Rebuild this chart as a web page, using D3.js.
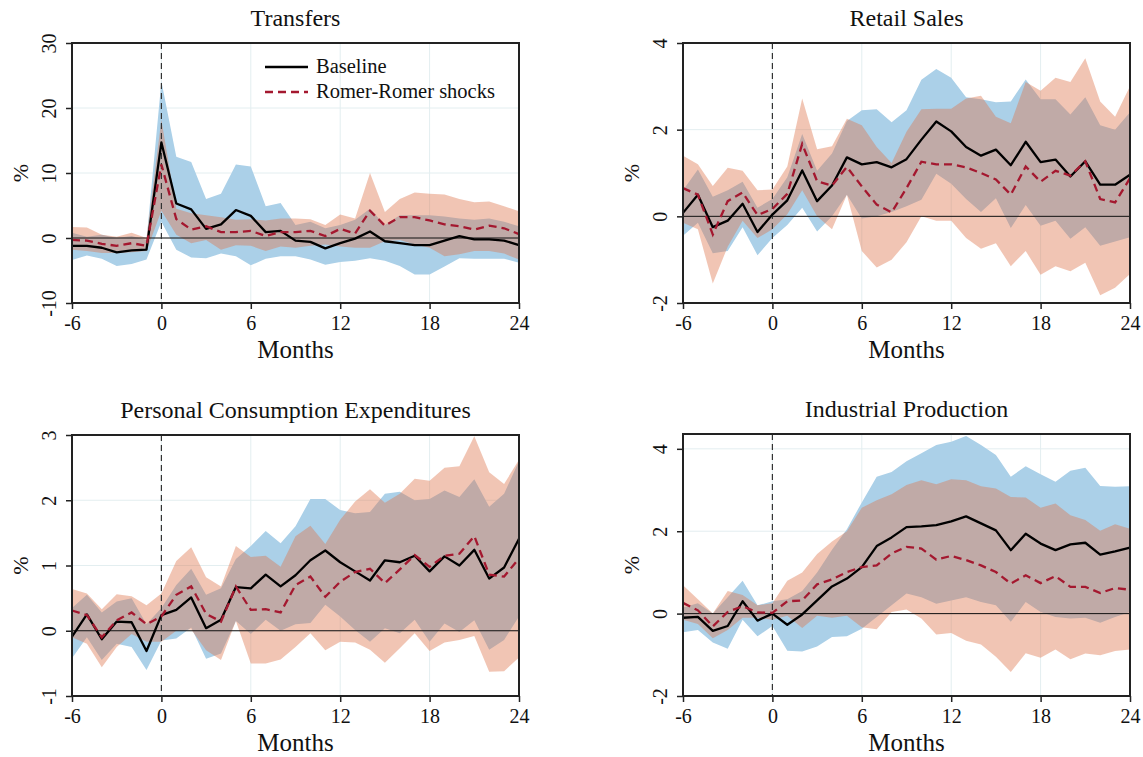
<!DOCTYPE html>
<html>
<head>
<meta charset="utf-8">
<script src="https://cdn.jsdelivr.net/npm/d3@7"></script>
<style>
  body { margin: 0; background: #fff; }
  svg { display: block; font-family: "Liberation Serif", "Times New Roman", serif; }
</style>
</head>
<body>
<svg id="chart" width="1143" height="757"></svg>
<script>
// months after the shock
var months = [-6,-5,-4,-3,-2,-1,0,1,2,3,4,5,6,7,8,9,10,11,12,13,14,15,16,17,18,19,20,21,22,23,24];
var xTicks = [-6, 0, 6, 12, 18, 24];

// Transfers
var trBase   = [-1.2,-1.2,-1.5,-2.2,-1.9,-1.8,14.7,5.3,4.4,1.4,2.1,4.3,3.4,0.9,1.1,-0.4,-0.6,-1.6,-0.8,-0.1,1.0,-0.5,-0.8,-1.1,-1.1,-0.4,0.3,-0.2,-0.2,-0.4,-1.1];
var trBaseHi = [0.8,0.2,0.5,0.0,0.3,-0.3,24.1,12.5,11.7,6.0,6.8,11.3,11.0,4.9,5.4,2.0,2.5,1.5,2.0,2.8,4.5,2.0,3.5,3.5,3.5,3.3,3.0,2.8,3.0,2.5,1.8];
var trBaseLo = [-3.4,-2.7,-3.2,-4.3,-4.0,-3.3,2.5,-1.8,-3.0,-3.1,-2.4,-2.8,-4.2,-3.2,-2.8,-2.8,-3.3,-4.1,-3.7,-3.5,-3.1,-3.5,-4.3,-5.6,-5.6,-4.4,-3.1,-3.2,-3.2,-3.2,-3.8];
var trRR     = [-0.3,-0.4,-0.9,-1.2,-0.8,-1.2,11.3,2.9,1.3,1.8,0.9,0.9,1.1,0.3,0.9,0.9,1.1,0.3,1.4,0.7,4.2,1.9,3.2,3.2,2.7,2.1,1.8,1.3,1.9,1.5,0.6];
var trRRHi   = [1.7,1.6,0.5,0.2,0.8,0.0,18.2,4.5,3.8,3.5,3.2,2.8,2.9,2.7,3.0,3.0,2.9,2.0,3.6,3.0,10.0,4.0,6.0,7.0,6.8,6.7,6.0,5.5,5.6,4.9,4.1];
var trRRLo   = [-1.8,-2.0,-2.3,-2.3,-2.2,-2.0,4.2,0.5,-0.8,-0.3,-1.8,-1.1,-1.2,-2.0,-1.3,-1.5,-1.2,-1.0,-1.3,-1.5,-1.5,-0.5,-0.3,-1.0,-1.5,-2.8,-2.5,-2.0,-2.0,-2.4,-3.3];

// Retail Sales
var rsBase   = [0.08,0.5,-0.25,-0.1,0.29,-0.36,0.04,0.37,1.06,0.35,0.71,1.36,1.2,1.25,1.13,1.32,1.77,2.19,1.96,1.6,1.4,1.54,1.18,1.72,1.25,1.31,0.92,1.27,0.73,0.73,0.96];
var rsBaseHi = [0.6,1.08,0.45,0.6,0.8,0.2,0.4,0.9,1.9,1.05,1.45,2.2,2.45,2.47,2.17,2.45,3.15,3.4,3.2,2.75,2.7,2.63,2.65,3.16,2.7,2.7,2.35,2.75,2.1,2.0,2.4];
var rsBaseLo = [-0.45,-0.15,-0.85,-0.8,-0.25,-0.9,-0.5,-0.2,0.2,-0.35,0.0,0.5,-0.05,0.0,0.1,0.23,0.38,0.98,0.75,0.4,0.1,0.42,-0.27,0.26,-0.22,-0.1,-0.52,-0.25,-0.68,-0.58,-0.48];
var rsRR     = [0.65,0.5,-0.42,0.35,0.55,0.03,0.17,0.52,1.67,0.81,0.71,1.14,0.69,0.27,0.09,0.65,1.26,1.2,1.2,1.13,1.0,0.85,0.5,1.15,0.8,1.05,0.94,1.27,0.4,0.32,0.88];
var rsRRHi   = [1.4,1.2,0.7,1.12,1.05,0.6,0.62,1.15,2.72,1.55,1.62,2.25,2.1,1.6,1.23,1.95,2.47,2.48,2.48,2.72,2.78,2.3,2.15,3.1,2.9,3.2,3.1,3.65,2.65,2.3,3.0];
var rsRRLo   = [-0.15,-0.3,-1.55,-0.7,-0.1,-0.5,-0.3,0.05,0.6,0.0,-0.3,0.5,-0.8,-1.18,-1.0,-0.6,0.0,-0.1,-0.1,-0.5,-0.75,-0.62,-1.15,-0.8,-1.35,-1.15,-1.27,-1.07,-1.82,-1.65,-1.33];

// Personal Consumption Expenditures
var pcBase   = [-0.09,0.25,-0.13,0.14,0.13,-0.31,0.24,0.32,0.51,0.04,0.17,0.67,0.65,0.86,0.68,0.85,1.08,1.23,1.05,0.91,0.77,1.08,1.05,1.15,0.91,1.14,1.0,1.24,0.8,0.97,1.41];
var pcBaseHi = [0.35,0.55,0.28,0.45,0.5,0.1,0.35,0.7,0.95,0.55,0.65,1.1,1.3,1.53,1.34,1.6,2.02,2.02,1.85,1.8,1.82,2.1,2.13,2.0,2.02,2.15,2.05,2.32,1.9,2.1,2.6];
var pcBaseLo = [-0.42,-0.1,-0.45,-0.2,-0.25,-0.6,-0.15,-0.12,0.05,-0.43,-0.35,0.15,-0.05,0.17,0.0,0.1,0.12,0.4,0.22,0.01,-0.17,0.04,-0.04,0.17,-0.17,0.11,-0.02,0.16,-0.29,-0.14,0.22];
var pcRR     = [0.31,0.24,-0.1,0.16,0.28,0.1,0.22,0.55,0.68,0.26,0.14,0.68,0.32,0.33,0.28,0.7,0.83,0.52,0.75,0.9,0.95,0.73,0.94,1.16,0.98,1.15,1.18,1.45,0.86,0.83,1.11];
var pcRRHi   = [0.64,0.57,0.33,0.56,0.53,0.39,0.57,1.07,1.28,0.82,0.68,1.3,1.13,1.15,0.98,1.45,1.61,1.33,1.7,1.98,2.17,1.96,2.1,2.33,2.3,2.5,2.52,2.98,2.43,2.25,2.62];
var pcRRLo   = [-0.1,-0.2,-0.56,-0.25,-0.05,-0.17,-0.17,0.0,0.02,-0.3,-0.45,0.15,-0.5,-0.5,-0.44,-0.25,-0.04,-0.3,-0.17,-0.18,-0.29,-0.49,-0.27,-0.04,-0.31,-0.18,-0.14,-0.08,-0.63,-0.62,-0.41];

// Industrial Production
var ipBase   = [-0.1,-0.08,-0.42,-0.3,0.3,-0.17,0.0,-0.27,-0.02,0.32,0.66,0.85,1.13,1.64,1.85,2.1,2.12,2.15,2.24,2.36,2.19,2.02,1.54,1.94,1.7,1.54,1.68,1.72,1.43,1.51,1.6];
var ipBaseHi = [0.15,0.25,0.0,0.4,0.8,0.2,0.3,0.35,0.55,1.0,1.55,2.05,2.7,3.32,3.44,3.7,3.89,4.09,4.17,4.31,4.09,3.85,3.32,3.58,3.38,3.2,3.47,3.54,3.1,3.08,3.09];
var ipBaseLo = [-0.45,-0.4,-0.7,-0.85,-0.15,-0.55,-0.3,-0.9,-0.92,-0.8,-0.57,-0.55,-0.37,-0.08,0.2,0.49,0.4,0.24,0.32,0.4,0.28,0.2,-0.2,0.28,0.04,-0.08,-0.12,-0.1,-0.22,-0.08,0.04];
var ipRR     = [0.26,0.08,-0.31,0.04,0.18,0.03,0.02,0.3,0.32,0.71,0.83,1.01,1.13,1.17,1.46,1.62,1.58,1.31,1.4,1.3,1.17,1.01,0.73,0.93,0.74,0.91,0.65,0.65,0.5,0.62,0.58];
var ipRRHi   = [0.69,0.35,0.0,0.55,0.45,0.2,0.25,0.8,1.0,1.45,1.75,2.0,2.57,2.75,2.9,3.12,3.24,3.14,3.26,3.24,3.09,3.04,2.83,2.82,2.57,2.67,2.39,2.27,2.01,2.17,2.06];
var ipRRLo   = [-0.15,-0.25,-0.6,-0.4,-0.1,-0.1,-0.15,-0.05,-0.35,-0.05,-0.1,-0.05,-0.33,-0.38,0.04,0.1,-0.12,-0.51,-0.47,-0.66,-0.75,-1.05,-1.42,-0.96,-1.07,-0.87,-1.11,-0.97,-1.01,-0.91,-0.87];

var seriesNames = ["Baseline", "Romer-Romer shocks"];

var panels = [
  {title: "Transfers", left: 72, top: 43, bottom: 303, yDomain: [-10, 30], yTicks: [-10, 0, 10, 20, 30],
   base: trBase, baseHi: trBaseHi, baseLo: trBaseLo, rr: trRR, rrHi: trRRHi, rrLo: trRRLo, legend: true},
  {title: "Retail Sales", left: 683, top: 43, bottom: 303, yDomain: [-2, 4], yTicks: [-2, 0, 2, 4],
   base: rsBase, baseHi: rsBaseHi, baseLo: rsBaseLo, rr: rsRR, rrHi: rsRRHi, rrLo: rsRRLo},
  {title: "Personal Consumption Expenditures", left: 72, top: 435, bottom: 696, yDomain: [-1, 3], yTicks: [-1, 0, 1, 2, 3],
   base: pcBase, baseHi: pcBaseHi, baseLo: pcBaseLo, rr: pcRR, rrHi: pcRRHi, rrLo: pcRRLo},
  {title: "Industrial Production", left: 683, top: 434, bottom: 696, yDomain: [-2, 4.36], yTicks: [-2, 0, 2, 4],
   base: ipBase, baseHi: ipBaseHi, baseLo: ipBaseLo, rr: ipRR, rrHi: ipRRHi, rrLo: ipRRLo}
];

var plotW = 447;
var svg = d3.select("#chart");
// plain hyphen for negative ticks, like the original
var fmt = function(d) { return String(d); };

panels.forEach(function(p) {
  var x = d3.scaleLinear().domain([-6, 24]).range([p.left, p.left + plotW]);
  var y = d3.scaleLinear().domain(p.yDomain).range([p.bottom, p.top]);
  var g = svg.append("g");
  var idx = d3.range(months.length);

  // light grid
  g.selectAll(".gy").data(p.yTicks).enter().append("line")
      .attr("x1", x(-6)).attr("x2", x(24))
      .attr("y1", function(d) { return y(d); }).attr("y2", function(d) { return y(d); })
      .attr("stroke", "#e3eef0").attr("stroke-width", 1);
  g.selectAll(".gx").data(xTicks).enter().append("line")
      .attr("x1", function(d) { return x(d); }).attr("x2", function(d) { return x(d); })
      .attr("y1", p.top).attr("y2", p.bottom)
      .attr("stroke", "#e3eef0").attr("stroke-width", 1);

  // confidence bands
  var band = function(hi, lo) {
    return d3.area()
      .x(function(i) { return x(months[i]); })
      .y0(function(i) { return y(lo[i]); })
      .y1(function(i) { return y(hi[i]); });
  };
  g.append("path").attr("d", band(p.baseHi, p.baseLo)(idx))
      .attr("fill", "#abd0e8");
  g.append("path").attr("d", band(p.rrHi, p.rrLo)(idx))
      .attr("fill", "rgb(222,117,76)").attr("fill-opacity", 0.42);

  // zero line and shock date
  g.append("line").attr("x1", x(-6)).attr("x2", x(24)).attr("y1", y(0)).attr("y2", y(0))
      .attr("stroke", "#111").attr("stroke-width", 1);
  g.append("line").attr("x1", x(0)).attr("x2", x(0)).attr("y1", p.top).attr("y2", p.bottom)
      .attr("stroke", "#333").attr("stroke-width", 1.2).attr("stroke-dasharray", "6,4");

  // responses
  var line = function(vals) {
    return d3.line().x(function(i) { return x(months[i]); }).y(function(i) { return y(vals[i]); })(idx);
  };
  g.append("path").attr("d", line(p.base)).attr("fill", "none")
      .attr("stroke", "#000").attr("stroke-width", 2.3).attr("stroke-linejoin", "round");
  g.append("path").attr("d", line(p.rr)).attr("fill", "none")
      .attr("stroke", "#a4182f").attr("stroke-width", 2.3).attr("stroke-dasharray", "8,5");

  // frame
  g.append("rect").attr("x", p.left).attr("y", p.top)
      .attr("width", plotW).attr("height", p.bottom - p.top)
      .attr("fill", "none").attr("stroke", "#222").attr("stroke-width", 2);

  // axes
  var yAxis = g.append("g").attr("transform", "translate(" + p.left + ",0)")
      .call(d3.axisLeft(y).tickValues(p.yTicks).tickSize(6).tickFormat(fmt));
  yAxis.select(".domain").remove();
  yAxis.selectAll("line").attr("stroke", "#222").attr("stroke-width", 1.5);
  yAxis.selectAll("text").attr("x", null).attr("dy", null)
      .attr("transform", "translate(-16,0) rotate(-90)")
      .attr("text-anchor", "middle")
      .style("font-family", "Liberation Serif").style("font-size", "20px").attr("fill", "#111");

  var xAxis = g.append("g").attr("transform", "translate(0," + p.bottom + ")")
      .call(d3.axisBottom(x).tickValues(xTicks).tickSize(6).tickPadding(7).tickFormat(fmt));
  xAxis.select(".domain").remove();
  xAxis.selectAll("line").attr("stroke", "#222").attr("stroke-width", 1.5);
  xAxis.selectAll("text")
      .style("font-family", "Liberation Serif").style("font-size", "20px").attr("fill", "#111");

  // labels
  var cx = p.left + plotW / 2;
  g.append("text").attr("x", cx).attr("y", p.top - 17).attr("text-anchor", "middle")
      .style("font-size", "24px").attr("fill", "#111").text(p.title);
  g.append("text").attr("x", cx).attr("y", p.bottom + 55).attr("text-anchor", "middle")
      .style("font-size", "25px").attr("fill", "#111").text("Months");
  g.append("text")
      .attr("transform", "translate(" + (p.left - 44) + "," + ((p.top + p.bottom) / 2) + ") rotate(-90)")
      .attr("text-anchor", "middle").style("font-size", "22px").attr("fill", "#111").text("%");

  if (p.legend) {
    var lg = g.append("g").attr("transform", "translate(265,67)");
    lg.append("line").attr("x1", 0).attr("x2", 43).attr("y1", 0).attr("y2", 0)
        .attr("stroke", "#000").attr("stroke-width", 2.3);
    lg.append("line").attr("x1", 0).attr("x2", 43).attr("y1", 25).attr("y2", 25)
        .attr("stroke", "#a4182f").attr("stroke-width", 2.3).attr("stroke-dasharray", "8,5");
    lg.selectAll("text").data(seriesNames).enter().append("text")
        .attr("x", 51).attr("y", function(d, i) { return i * 25 + 6; })
        .style("font-size", "20.5px").attr("fill", "#111").text(function(d) { return d; });
  }
});
</script>
</body>
</html>
